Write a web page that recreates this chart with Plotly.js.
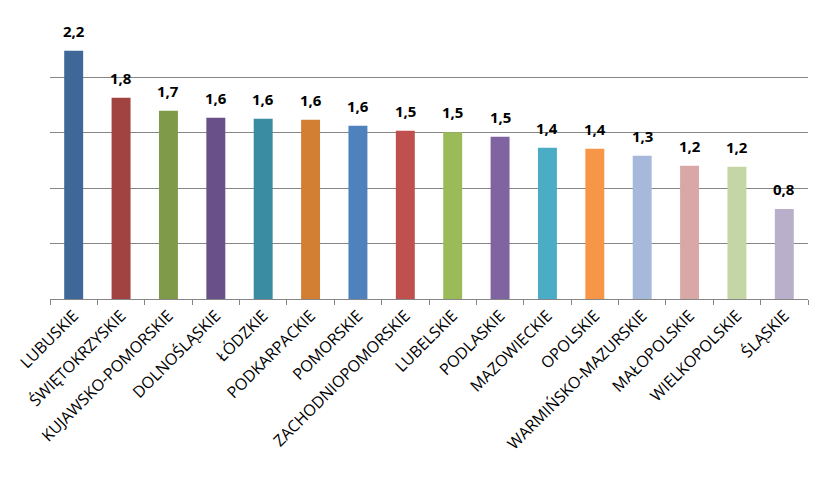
<!DOCTYPE html>
<html>
<head>
<meta charset="utf-8">
<script src="https://cdn.plot.ly/plotly-3.0.1.min.js"></script>
<style>html,body{margin:0;padding:0;background:#fff;}#chart{width:831px;height:480px;}</style>
</head>
<body>
<div id="chart"></div>
<script>
const categories = ["LUBUSKIE","ŚWIĘTOKRZYSKIE","KUJAWSKO-POMORSKIE","DOLNOŚLĄSKIE","ŁÓDZKIE","PODKARPACKIE","POMORSKIE","ZACHODNIOPOMORSKIE","LUBELSKIE","PODLASKIE","MAZOWIECKIE","OPOLSKIE","WARMIŃSKO-MAZURSKIE","MAŁOPOLSKIE","WIELKOPOLSKIE","ŚLĄSKIE"];
const values = [2.24,1.816,1.70,1.635,1.626,1.617,1.563,1.518,1.506,1.464,1.364,1.356,1.292,1.202,1.193,0.813];
const valueLabels = ["2,2","1,8","1,7","1,6","1,6","1,6","1,6","1,5","1,5","1,5","1,4","1,4","1,3","1,2","1,2","0,8"];
const colors = ["#3F6797","#A04341","#7F9A48","#6A5088","#3A8CA2","#D27F34","#4F81BD","#C0504D","#9BBB59","#8064A2","#4BACC6","#F79646","#A7B9DA","#D9A7A6","#C4D6A5","#B9AFCB"];

const trace = {
  type: "bar",
  x: categories,
  y: values,
  marker: {color: colors, line: {width: 0}},
  hoverinfo: "skip"
};

const annotations = categories.map((c, i) => ({
  x: c, y: values[i], xref: "x", yref: "y",
  text: "<b>" + valueLabels[i] + "</b>",
  showarrow: false, yanchor: "bottom", yshift: 8,
  font: {family: "Open Sans, sans-serif", size: 15, color: "#000"}
}));

const layout = {
  width: 831, height: 480,
  margin: {l: 50, r: 23, t: 22, b: 181},
  paper_bgcolor: "#fff", plot_bgcolor: "#fff",
  showlegend: false,
  bargap: 0.6,
  xaxis: {
    type: "category",
    tickangle: -45,
    ticks: "outside", tickson: "boundaries", ticklen: 5, tickcolor: "#868686",
    showline: true, linecolor: "#868686", linewidth: 1,
    showgrid: false,
    tickfont: {family: "Open Sans, sans-serif", size: 16, color: "#000"},
    fixedrange: true
  },
  yaxis: {
    range: [0, 2.5], dtick: 0.5,
    showticklabels: false, ticks: "",
    showgrid: true, gridcolor: "#868686", gridwidth: 1,
    zeroline: false, showline: false,
    fixedrange: true
  },
  annotations: annotations
};

Plotly.newPlot("chart", [trace], layout, {displayModeBar: false, staticPlot: true});
</script>
</body>
</html>
